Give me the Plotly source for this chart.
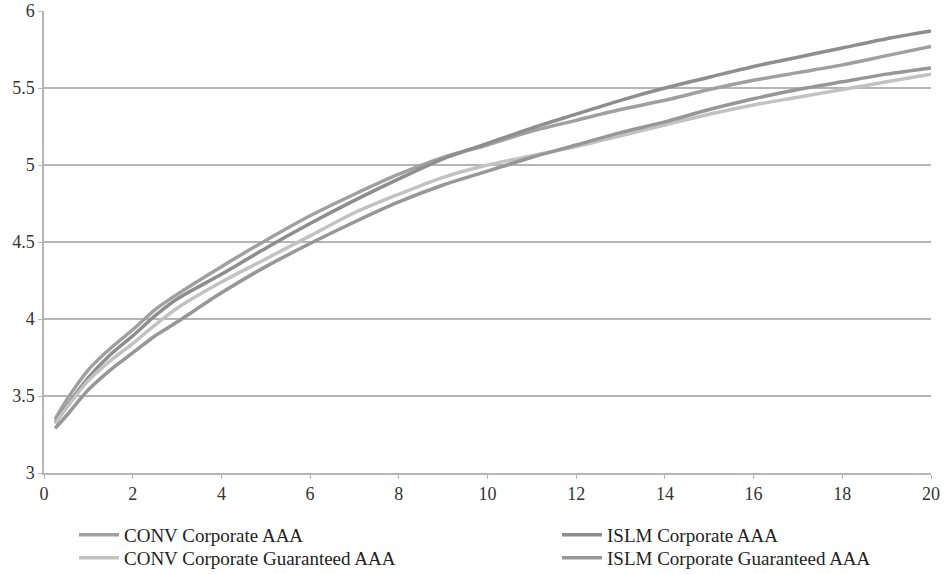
import plotly.graph_objects as go

tenor = [0.25, 0.5, 1, 1.5, 2, 2.5, 3, 4, 5, 6, 7, 8, 9, 10, 11, 12, 13, 14, 15, 16, 17, 18, 19, 20]

conv_corp = [3.35, 3.47, 3.67, 3.81, 3.93, 4.06, 4.16, 4.34, 4.51, 4.67, 4.81, 4.94, 5.05, 5.13,
             5.22, 5.29, 5.36, 5.42, 5.49, 5.55, 5.60, 5.65, 5.71, 5.77]
islm_corp = [3.33, 3.43, 3.62, 3.77, 3.89, 4.02, 4.13, 4.29, 4.46, 4.62, 4.77, 4.91, 5.04, 5.14,
             5.24, 5.33, 5.42, 5.50, 5.57, 5.64, 5.70, 5.76, 5.82, 5.87]
conv_guar = [3.32, 3.42, 3.60, 3.73, 3.84, 3.96, 4.07, 4.24, 4.39, 4.54, 4.69, 4.81, 4.92, 5.00,
             5.06, 5.12, 5.19, 5.26, 5.33, 5.39, 5.44, 5.49, 5.54, 5.59]
islm_guar = [3.29, 3.37, 3.54, 3.67, 3.78, 3.89, 3.98, 4.17, 4.34, 4.49, 4.63, 4.76, 4.87, 4.96,
             5.05, 5.13, 5.21, 5.28, 5.36, 5.43, 5.49, 5.54, 5.59, 5.63]

x_ticks = [0, 2, 4, 6, 8, 10, 12, 14, 16, 18, 20]
y_ticks = [3, 3.5, 4, 4.5, 5, 5.5, 6]
y_tick_labels = ["3", "3.5", "4", "4.5", "5", "5.5", "6"]

W, H = 947, 574
series = [
    ("CONV Corporate AAA", conv_corp, "#a0a0a0", "legend", 74, 516),
    ("ISLM Corporate AAA", islm_corp, "#8e8e8e", "legend2", 557, 516),
    ("CONV Corporate Guaranteed AAA", conv_guar, "#c2c2c2", "legend3", 74, 539),
    ("ISLM Corporate Guaranteed AAA", islm_guar, "#979797", "legend4", 557, 539),
]

FONT = "Liberation Serif"
grid = "#b5b5b5"
leg_font = dict(family=FONT, size=19, color="#222222")

fig = go.Figure()
legends = {}
for name, vals, color, leg, lx, ly in series:
    fig.add_trace(go.Scatter(
        x=tenor, y=vals, name=name, mode="lines",
        line=dict(color=color, width=3.5, shape="spline", smoothing=0.8),
        legend=leg,
    ))
    legends[leg] = dict(xref="container", yref="container", x=lx / W, y=1 - ly / H,
                        xanchor="left", yanchor="top", orientation="v",
                        font=leg_font, itemwidth=40, bgcolor="rgba(0,0,0,0)")

fig.update_layout(
    width=W, height=H,
    margin=dict(l=44, r=16, t=11, b=101, autoexpand=False),
    paper_bgcolor="white", plot_bgcolor="white",
    font=dict(family=FONT, size=18, color="#333333"),
    xaxis=dict(range=[0, 20], tickvals=x_ticks, showgrid=False,
               showline=True, linecolor=grid, linewidth=1.5,
               ticks="outside", ticklen=4, tickcolor=grid, zeroline=False,
               tickangle=0, ticklabeloverflow="allow",
               tickfont=dict(family=FONT, size=18, color="#333333")),
    yaxis=dict(range=[3, 6], tickvals=y_ticks, ticktext=y_tick_labels,
               showgrid=True, gridcolor=grid, gridwidth=1.5,
               showline=True, linecolor=grid, linewidth=1.5,
               ticks="outside", ticklen=4, tickcolor=grid, zeroline=False,
               ticklabeloverflow="allow",
               tickfont=dict(family=FONT, size=18, color="#333333")),
    showlegend=True,
    **legends,
)

fig.write_html("out.html", config={"displayModeBar": False},
               post_script="document.body.style.margin='0';")
